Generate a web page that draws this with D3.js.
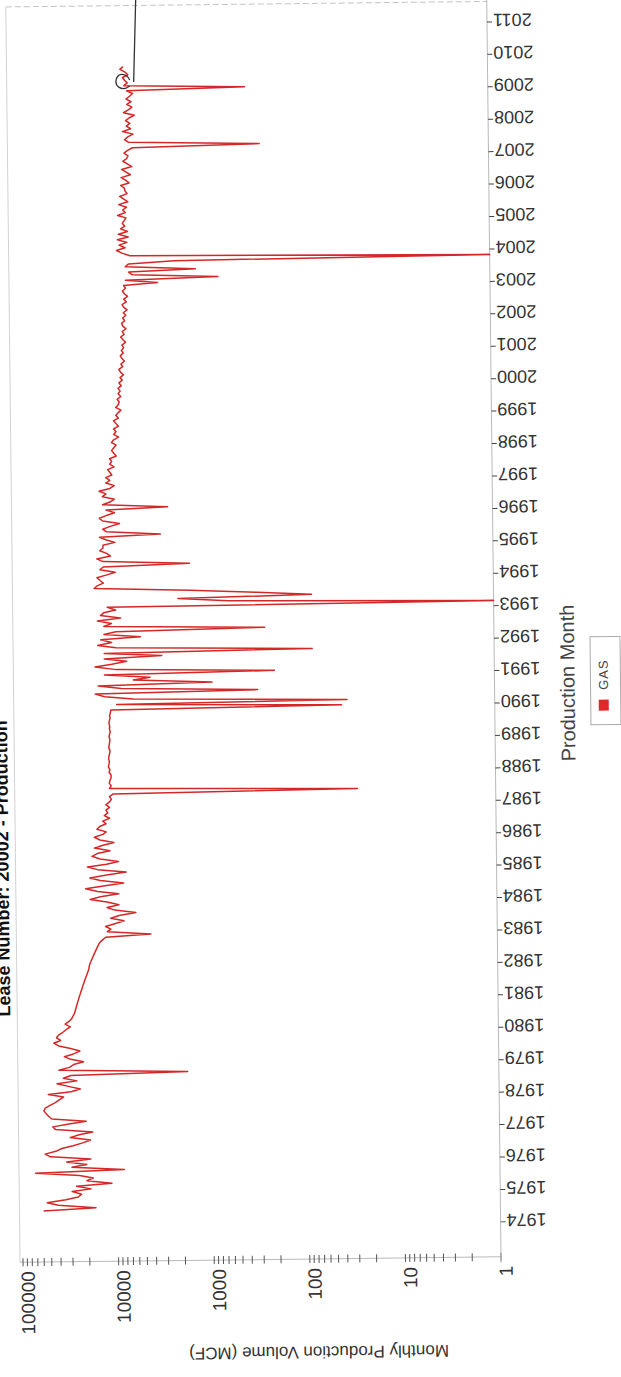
<!DOCTYPE html>
<html><head><meta charset="utf-8">
<script src="https://cdn.jsdelivr.net/npm/d3@7"></script>
<style>body{margin:0;background:#fff}svg{display:block}text{font-family:"Liberation Sans",Arial,sans-serif}</style>
</head><body>
<svg id="c" width="621" height="1377"></svg>
<script>
const titleText = "Lease Number: 20002 - Production";
const seriesName = "GAS";
const xTitle = "Production Month";
const yTitle = "Monthly Production Volume (MCF)";
const firstMonth = "1974-07";
const gas = [
 60000,17000,42000,55000,35000,26000,
 24000,30000,19000,27000,11500,21000,18000,25000,72000,8500,30000,21000,
 34000,19000,50000,57000,44000,38000,29000,23000,19000,31000,25000,18000,
 44000,47000,33000,21000,48000,52000,55000,58000,56000,50000,44000,40000,
 36000,52000,30000,24000,32000,42000,26000,36000,30000,1800,40000,31000,
 28000,22000,30000,35000,28000,24000,30000,40000,45000,38000,42000,40000,
 36000,33000,30000,34000,31000,29000,28000,27000,26500,26000,25500,25000,
 24500,24000,23500,23000,22500,22000,21500,21000,20500,20000,19500,19000,
 18800,18500,18000,17500,17000,16500,16000,15500,15000,14500,13500,12500,
 4200,12000,11000,12500,10000,8000,11000,9000,6000,10000,12000,9000,
 12000,18000,14000,9000,15000,20000,13000,8000,14000,18000,12000,7500,
 15000,19000,12000,9000,14000,17000,15000,11000,16000,13000,10000,14000,
 16000,13000,12000,15000,14000,12000,13000,11000,12500,11500,12000,11000,
 12000,11000,10500,11000,10000,28,11000,10500,11000,10800,10500,10500,
 11000,10800,11200,11000,10900,11100,11000,10800,10700,11000,10900,10800,
 10700,10900,10800,10600,10800,10700,10900,10800,10600,10700,10500,10400,
 40,9000,35,6000,12000,15000,300,8000,14000,900,6000,4000,
 12000,200,9000,15000,10000,7000,12000,3000,12000,80,9000,14000,
 10000,13000,5000,12000,9000,250,12000,10000,14000,8000,13000,12000,
 9000,11000,1,600,2000,80,300,1500,15000,14000,12000,13000,
 14000,11000,9000,13000,12000,1500,12000,14000,10000,11000,13000,12000,
 12000,9000,11000,13000,3000,11000,12000,10000,8000,12000,13000,11000,
 9000,11000,2500,12000,10000,9000,12000,11000,13000,10000,9000,11000,
 10000,11000,9500,10000,10500,9000,10000,9500,10000,8500,9000,9500,
 9000,8500,9500,9000,8000,9000,8500,9000,8000,8500,9000,8000,
 8500,8000,7500,8500,8000,7800,8200,7500,8000,7600,8000,7400,
 7800,7200,7600,7000,7500,7800,7100,7400,6800,7200,7500,7000,
 7300,6900,7200,6600,7000,7400,6800,7100,6500,7000,7200,6700,
 7000,6500,6900,6300,6800,7100,6400,6800,6200,6700,7000,6500,
 6800,3000,6500,700,5500,6000,1200,6500,6000,2000,1,5800,
 7000,8000,6500,7500,6200,7800,6000,7600,6100,7200,6500,6900,
 6600,6300,7700,6400,6800,6200,7500,6000,6600,7300,6100,6400,
 6500,7100,5800,6300,7000,5600,6200,6900,5400,6000,6700,6100,
 5900,6500,6000,5300,250,5800,6400,5900,5200,6700,5500,6100,
 5600,6200,5700,5000,6500,5800,5300,6000,5400,6100,5600,5200,
 6000,350,6400,5900,6300,6600,5800,6200,7000,6500
];
const yearTicks = d3.range(1974, 2012);
const valueTicks = [1,10,100,1000,10000,100000];

const svg = d3.select("#c");
const g = svg.append("g").attr("transform","rotate(-0.65 310 640)");

const parse = d3.timeParse("%Y-%m");
const t0 = parse(firstMonth);
const data = gas.map((v,i)=>({date:d3.timeMonth.offset(t0,i), v}));

const xLeft = 13, xAxisPos = 494, yTop = 3.5, yAxisPos = 1259;
const xv = d3.scaleLog().domain([1,100000]).range([494,16]);
const yt = d3.scaleTime().domain([new Date(1974,0,1), new Date(2011,0,1)]).range([1224,24]);

const grey = "#b9b9b9";
g.append("line").attr("x1",xLeft).attr("x2",xLeft).attr("y1",yTop).attr("y2",yAxisPos).attr("stroke","#d2d2d2");
g.append("line").attr("x1",xLeft).attr("x2",xAxisPos).attr("y1",yTop).attr("y2",yTop).attr("stroke","#c4c4c4").attr("stroke-dasharray","6,3");

g.append("line").attr("x1",xLeft).attr("x2",xAxisPos).attr("y1",yAxisPos).attr("y2",yAxisPos).attr("stroke",grey);
const minor = [];
valueTicks.forEach(p=>{ for(let k=1;k<10;k++){ const v=p*k; if(v<=100000) minor.push(v);} });
g.selectAll(".vt").data(minor).join("line").attr("class","vt")
 .attr("x1",d=>xv(d)).attr("x2",d=>xv(d)).attr("y1",yAxisPos-4).attr("y2",yAxisPos+4)
 .attr("stroke","#555").attr("stroke-width",1);
g.selectAll(".vl").data(valueTicks).join("text").attr("class","vl")
 .attr("transform",d=>`translate(${xv(d)+5},${yAxisPos+9}) rotate(-90)`)
 .attr("text-anchor","end").attr("dominant-baseline","central")
 .attr("font-size",19).attr("fill","#333").text(d=>d3.format("d")(d));
g.append("text").attr("transform",`translate(311,1352) rotate(180)`)
 .attr("text-anchor","middle").attr("dominant-baseline","central")
 .attr("font-size",17).attr("fill","#333").text(yTitle);

g.append("line").attr("x1",xAxisPos).attr("x2",xAxisPos).attr("y1",0).attr("y2",yAxisPos+6).attr("stroke",grey);
g.selectAll(".yt").data(yearTicks).join("line").attr("class","yt")
 .attr("x1",xAxisPos).attr("x2",xAxisPos+5)
 .attr("y1",d=>yt(new Date(d,0,1))).attr("y2",d=>yt(new Date(d,0,1)))
 .attr("stroke","#444");
g.selectAll(".yl").data(yearTicks).join("text").attr("class","yl")
 .attr("transform",d=>`translate(${xAxisPos+6},${yt(new Date(d,0,1))-2}) rotate(180)`)
 .attr("text-anchor","end").attr("dominant-baseline","central")
 .attr("font-size",18).attr("fill","#333").text(d=>d);
g.append("text").attr("transform",`translate(567,686) rotate(-90)`)
 .attr("text-anchor","middle").attr("dominant-baseline","central")
 .attr("font-size",20).attr("fill","#444").text(xTitle);

g.append("rect").attr("x",590).attr("y",640).attr("width",30).attr("height",88)
 .attr("fill","none").attr("stroke","#aaa");
g.append("rect").attr("x",598).attr("y",703).attr("width",10).attr("height",11).attr("fill","#e02828");
g.append("text").attr("transform",`translate(603,678) rotate(-90)`)
 .attr("text-anchor","middle").attr("dominant-baseline","central")
 .attr("font-size",13).attr("fill","#444").attr("letter-spacing",1).text(seriesName);

g.append("text").attr("transform",`translate(6,1013) rotate(-90)`)
 .attr("text-anchor","start").attr("font-size",18).attr("font-weight","bold").attr("fill","#111").text(titleText);

const line = d3.line().x(d=>xv(d.v)).y(d=>yt(d.date));
g.append("path").datum(data).attr("d",line).attr("fill","none")
 .attr("stroke","#d42828").attr("stroke-width",1.5).attr("stroke-linejoin","round");

g.append("path").attr("d","M143,-4 L140,80 M136,84 C128,90 120,84 123,76 C126,70 134,72 136,78")
 .attr("fill","none").attr("stroke","#333").attr("stroke-width",1.3);
</script>
</body></html>
